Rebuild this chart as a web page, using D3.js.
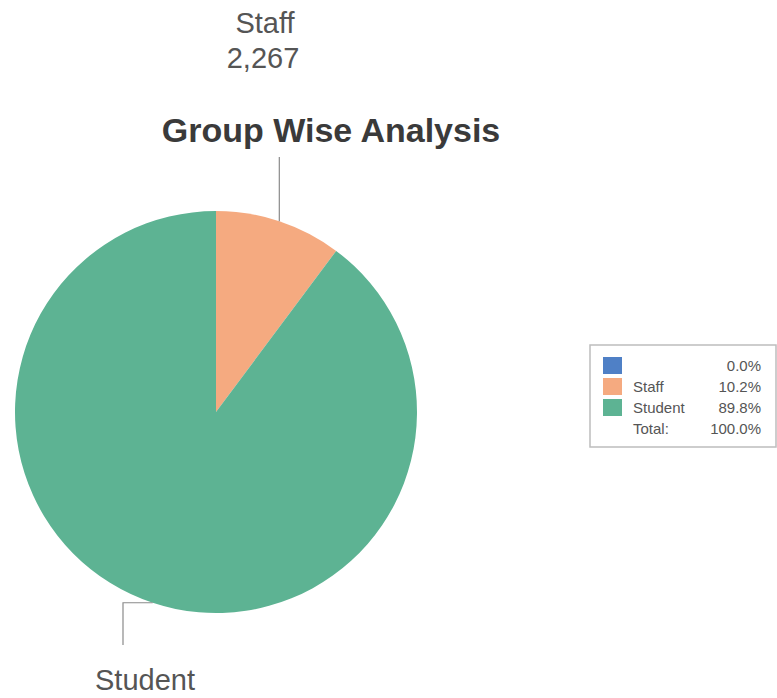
<!DOCTYPE html>
<html>
<head>
<meta charset="utf-8">
<script src="https://cdn.jsdelivr.net/npm/d3@7"></script>
<style>
  html, body { margin: 0; padding: 0; background: #fff; }
  svg { display: block; }
  text { font-family: "Liberation Sans", Arial, sans-serif; }
</style>
</head>
<body>
<svg id="chart" width="777" height="698"></svg>
<script>
// Group membership counts
const groups = ["", "Staff", "Student"];
const counts = [0, 2267, 19958];
const colors = ["#4f80c6", "#f5aa80", "#5db393"];
const title = "Group Wise Analysis";

const svg = d3.select("#chart");
const cx = 216, cy = 412, R = 201;

const total = d3.sum(counts);
const data = groups.map((g, i) => ({ name: g, value: counts[i], color: colors[i] }));

const pie = d3.pie().sort(null).value(d => d.value);
const arcs = pie(data);
const arc = d3.arc().innerRadius(0).outerRadius(R);

const g = svg.append("g").attr("transform", `translate(${cx},${cy})`);
g.selectAll("path")
  .data(arcs.filter(a => a.data.value > 0))
  .join("path")
  .attr("d", arc)
  .attr("fill", d => d.data.color);

// Title
svg.append("text")
  .attr("x", 331).attr("y", 142)
  .attr("text-anchor", "middle")
  .attr("font-size", 34).attr("font-weight", "bold")
  .attr("fill", "#3a3a3a")
  .text(title);

const fmt = d3.format(",");
const pt = (a, r) => {
  const m = (a.startAngle + a.endAngle) / 2;
  return [cx + r * Math.sin(m), cy - r * Math.cos(m)];
};
const labelSize = 29;

// Staff callout: straight up from the slice edge
const staff = arcs[1];
const [sx, sy] = pt(staff, R);
svg.append("polyline")
  .attr("points", [[sx, sy], [sx, 157]].map(p => p.join(",")).join(" "))
  .attr("fill", "none").attr("stroke", "#8a8a8a").attr("stroke-width", 1.2);
svg.append("text").attr("x", 265).attr("y", 33)
  .attr("text-anchor", "middle").attr("font-size", labelSize).attr("fill", "#555")
  .text(staff.data.name);
svg.append("text").attr("x", 263).attr("y", 68)
  .attr("text-anchor", "middle").attr("font-size", labelSize).attr("fill", "#555")
  .text(fmt(staff.data.value));

// Student callout: left then down
const stu = arcs[2];
const [tx, ty] = pt(stu, R);
svg.append("polyline")
  .attr("points", [[tx, ty], [123, ty], [123, 645]].map(p => p.join(",")).join(" "))
  .attr("fill", "none").attr("stroke", "#8a8a8a").attr("stroke-width", 1.2);
svg.append("text").attr("x", 145).attr("y", 690)
  .attr("text-anchor", "middle").attr("font-size", labelSize).attr("fill", "#555")
  .text(stu.data.name);

// Legend
const lg = svg.append("g").attr("transform", "translate(590,345)");
lg.append("rect").attr("x", 0).attr("y", 0).attr("width", 186).attr("height", 102)
  .attr("fill", "#fff").attr("stroke", "#bdbdbd").attr("stroke-width", 1.5);
const pctFmt = d3.format(".1%");
const legendSize = 15;
const rows = lg.selectAll("g.row").data(data).join("g")
  .attr("class", "row")
  .attr("transform", (d, i) => `translate(0,${20 + i * 21})`);
rows.append("rect").attr("x", 13).attr("y", -8).attr("width", 19).attr("height", 17)
  .attr("fill", d => d.color);
rows.append("text").attr("x", 43).attr("y", 6).attr("font-size", legendSize).attr("fill", "#555")
  .text(d => d.name);
rows.append("text").attr("x", 171).attr("y", 6).attr("font-size", legendSize).attr("fill", "#555")
  .attr("text-anchor", "end")
  .text(d => pctFmt(d.value / total));
lg.append("text").attr("x", 43).attr("y", 89).attr("font-size", legendSize).attr("fill", "#555")
  .text("Total:");
lg.append("text").attr("x", 171).attr("y", 89).attr("font-size", legendSize).attr("fill", "#555")
  .attr("text-anchor", "end").text(pctFmt(1));
</script>
</body>
</html>
